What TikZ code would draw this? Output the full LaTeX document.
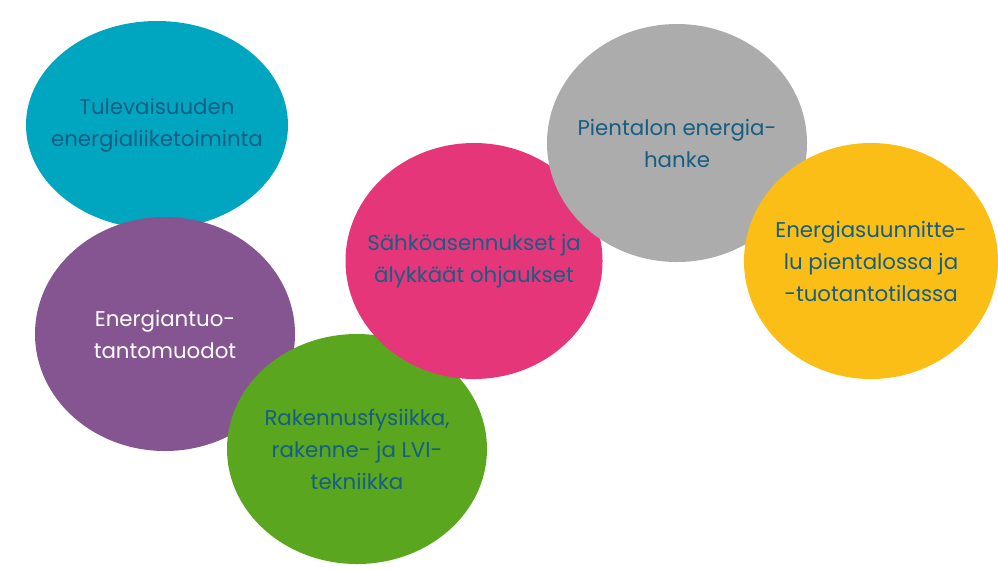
\documentclass[tikz,border=0pt]{standalone}
\usepackage{fontspec}
\setmainfont{Poppins}
\usetikzlibrary{shapes.geometric,positioning}

\definecolor{tealfill}{RGB}{0,166,192}
\definecolor{purplefill}{RGB}{133,85,146}
\definecolor{greenfill}{RGB}{90,166,30}
\definecolor{pinkfill}{RGB}{230,54,122}
\definecolor{grayfill}{RGB}{171,172,171}
\definecolor{yellowfill}{RGB}{251,190,22}
\definecolor{textblue}{RGB}{22,94,132}

\begin{document}
\begin{tikzpicture}[x=0.75pt, y=-0.75pt,
  bubble/.style={ellipse, inner sep=0pt},
  bubbletext/.style={align=center, text=textblue, inner sep=0pt,
    font=\fontsize{16}{24}\selectfont}]
\useasboundingbox (0,0) rectangle (998,569);
% Tulevaisuuden
\node[bubble, fill=tealfill, minimum width=196.5pt, minimum height=156pt] (tulevaisuus) at (157,125) {};
\node[bubbletext] (tulevaisuus-t) at (tulevaisuus.center) {Tulevaisuuden\\energialiiketoiminta};
% Energiantuotanto
\node[bubble, fill=purplefill, minimum width=195pt, minimum height=175.5pt] (tuotanto) at (165,334) {};
\node[bubbletext, text=white] (tuotanto-t) at (tuotanto.center) {Energiantuo-\\tantomuodot};
% Rakennusfysiikka
\node[bubble, fill=greenfill, minimum width=195pt, minimum height=172.5pt] (rakennus) at (357,449) {};
\node[bubbletext] (rakennus-t) at (rakennus.center) {Rakennusfysiikka,\\rakenne- ja LVI-\\tekniikka};
% Sähkö
\node[bubble, fill=pinkfill, minimum width=192.75pt, minimum height=177pt] (sahko) at (474,261) {};
\node[bubbletext] (sahko-t) at (sahko.center) {Sähköasennukset ja\\älykkäät ohjaukset};
% Pientalo
\node[bubble, fill=grayfill, minimum width=195pt, minimum height=178.5pt] (pientalo) at (677,143) {};
\node[bubbletext] (pientalo-t) at (pientalo.center) {Pientalon energia-\\hanke};
% Suunnittelu
\node[bubble, fill=yellowfill, minimum width=190.5pt, minimum height=177pt] (suunnittelu) at (871,261) {};
\node[bubbletext] (suunnittelu-t) at (suunnittelu.center) {Energiasuunnitte-\\lu pientalossa ja\\-tuotantotilassa};
\end{tikzpicture}
\end{document}
